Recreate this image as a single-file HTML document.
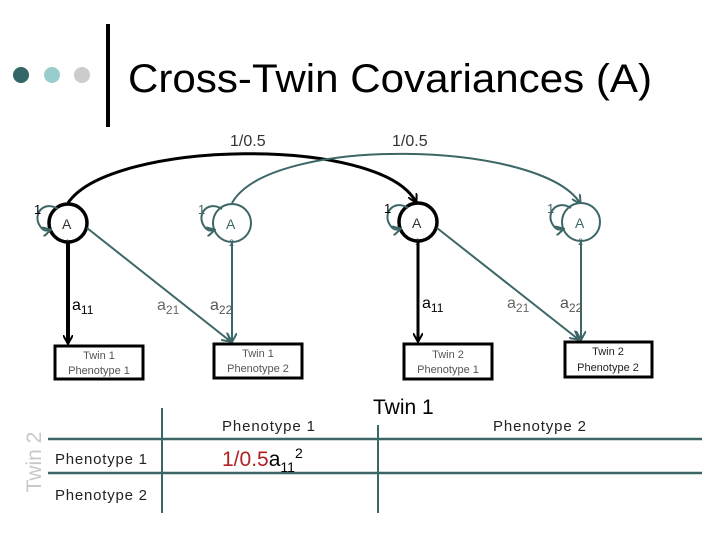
<!DOCTYPE html>
<html><head><meta charset="utf-8"><style>
html,body{margin:0;padding:0;background:#fff;}
svg{display:block;font-family:"Liberation Sans",Arial,sans-serif;}
</style></head><body>
<svg width="720" height="540" viewBox="0 0 720 540" xmlns="http://www.w3.org/2000/svg">
<defs>
<marker id="ab" markerWidth="10" markerHeight="10" refX="8" refY="5" orient="auto" markerUnits="userSpaceOnUse"><path d="M0,0 L9,5 L0,10" fill="none" stroke="#000" stroke-width="2"/></marker>
<marker id="at" markerWidth="10" markerHeight="10" refX="8" refY="5" orient="auto" markerUnits="userSpaceOnUse"><path d="M0,0 L9,5 L0,10" fill="none" stroke="#3d6666" stroke-width="2"/></marker>
</defs>
<circle cx="21" cy="75" r="8" fill="#336666"/>
<circle cx="52" cy="75" r="8" fill="#99cccc"/>
<circle cx="82" cy="75" r="8" fill="#cccccc"/>
<rect x="106" y="24" width="4" height="103" fill="#000"/>
<text x="128" y="92" font-size="40" textLength="524" lengthAdjust="spacingAndGlyphs">Cross-Twin Covariances (A)</text>

<text x="230" y="146" font-size="16" fill="#333">1/0.5</text>
<text x="392" y="146" font-size="16" fill="#333">1/0.5</text>

<path d="M68,203 C110,140 380,135 416,202" fill="none" stroke="#000" stroke-width="3" marker-end="url(#ab)"/>
<path d="M232,203 C270,135 540,140 580,203" fill="none" stroke="#3d6666" stroke-width="2" marker-end="url(#at)"/>

<g font-size="14">
<circle cx="68" cy="223" r="19" fill="#fff" stroke="#000" stroke-width="3.5"/>
<text x="62" y="229" fill="#333">A</text><text x="65" y="246" font-size="9" fill="#333">1</text>
<circle cx="232" cy="223" r="19" fill="#fff" stroke="#3d6666" stroke-width="2"/>
<text x="226" y="229" fill="#3d6666">A</text><text x="229" y="246" font-size="9" fill="#3d6666">2</text>
<circle cx="418" cy="222" r="19" fill="#fff" stroke="#000" stroke-width="3.5"/>
<text x="412" y="228" fill="#333">A</text><text x="415" y="245" font-size="9" fill="#333">1</text>
<circle cx="581" cy="222" r="19" fill="#fff" stroke="#3d6666" stroke-width="2"/>
<text x="575" y="228" fill="#3d6666">A</text><text x="578" y="245" font-size="9" fill="#3d6666">2</text>

<path d="M58,209 C44,200 32,214 40,226 C43,231 46,231 50,230" fill="none" stroke="#3d6666" stroke-width="2" marker-end="url(#at)"/>
<text x="34" y="214" font-size="13">1</text>
<path d="M222,209 C208,200 196,214 204,226 C207,231 210,231 214,230" fill="none" stroke="#3d6666" stroke-width="2" marker-end="url(#at)"/>
<text x="198" y="214" font-size="13" fill="#3d6666">1</text>
<path d="M408,208 C394,199 382,213 390,225 C393,230 396,230 400,229" fill="none" stroke="#3d6666" stroke-width="2" marker-end="url(#at)"/>
<text x="384" y="213" font-size="13">1</text>
<path d="M571,208 C557,199 545,213 553,225 C556,230 559,230 563,229" fill="none" stroke="#3d6666" stroke-width="2" marker-end="url(#at)"/>
<text x="547" y="213" font-size="13" fill="#3d6666">1</text>
</g>

<line x1="68" y1="242" x2="68" y2="343" stroke="#000" stroke-width="4" marker-end="url(#ab)"/>
<line x1="87" y1="228" x2="230" y2="341" stroke="#3d6666" stroke-width="2" marker-end="url(#at)"/>
<line x1="232" y1="242" x2="232" y2="341" stroke="#3d6666" stroke-width="2" marker-end="url(#at)"/>
<line x1="418" y1="241" x2="418" y2="341" stroke="#000" stroke-width="3" marker-end="url(#ab)"/>
<line x1="437" y1="228" x2="578" y2="339" stroke="#3d6666" stroke-width="2" marker-end="url(#at)"/>
<line x1="581" y1="241" x2="581" y2="339" stroke="#3d6666" stroke-width="2" marker-end="url(#at)"/>

<g font-size="16">
<text x="72" y="310" fill="#000">a<tspan font-size="12" dy="4">11</tspan></text>
<text x="157" y="310" fill="#666">a<tspan font-size="12" dy="4">21</tspan></text>
<text x="210" y="310" fill="#555">a<tspan font-size="12" dy="4">22</tspan></text>
<text x="422" y="308" fill="#000">a<tspan font-size="12" dy="4">11</tspan></text>
<text x="507" y="308" fill="#666">a<tspan font-size="12" dy="4">21</tspan></text>
<text x="560" y="308" fill="#555">a<tspan font-size="12" dy="4">22</tspan></text>
</g>

<g font-size="11" text-anchor="middle">
<rect x="55" y="346" width="88" height="33" fill="#fff" stroke="#000" stroke-width="3"/>
<text x="99" y="359" fill="#555">Twin 1</text><text x="99" y="374" fill="#555">Phenotype 1</text>
<rect x="214" y="344" width="88" height="34" fill="#fff" stroke="#000" stroke-width="3"/>
<text x="258" y="357" fill="#555">Twin 1</text><text x="258" y="372" fill="#555">Phenotype 2</text>
<rect x="404" y="344" width="88" height="35" fill="#fff" stroke="#000" stroke-width="3"/>
<text x="448" y="358" fill="#555">Twin 2</text><text x="448" y="373" fill="#555">Phenotype 1</text>
<rect x="565" y="342" width="87" height="35" fill="#fff" stroke="#000" stroke-width="3"/>
<text x="608" y="355" fill="#222">Twin 2</text><text x="608" y="371" fill="#222">Phenotype 2</text>
</g>

<line x1="48" y1="439" x2="702" y2="439" stroke="#3d6666" stroke-width="2.5"/>
<line x1="48" y1="473" x2="702" y2="473" stroke="#3d6666" stroke-width="2.5"/>
<line x1="162" y1="408" x2="162" y2="513" stroke="#3d6666" stroke-width="2"/>
<line x1="378" y1="425" x2="378" y2="513" stroke="#3d6666" stroke-width="2"/>

<text x="373" y="414" font-size="21">Twin 1</text>
<text x="222" y="431" font-size="15" fill="#222" textLength="93">Phenotype 1</text>
<text x="493" y="431" font-size="15" fill="#222" textLength="93">Phenotype 2</text>
<text x="55" y="464" font-size="15" fill="#222" textLength="92">Phenotype 1</text>
<text x="55" y="500" font-size="15" fill="#222" textLength="92">Phenotype 2</text>
<text transform="translate(41,462) rotate(-90)" text-anchor="middle" font-size="21" fill="#c8c8c8">Twin 2</text>
<text x="222" y="466" font-size="21"><tspan fill="#b22222">1/0.5</tspan>a<tspan font-size="14" dy="6">11</tspan><tspan font-size="14" dy="-14">2</tspan></text>
</svg>
</body></html>
